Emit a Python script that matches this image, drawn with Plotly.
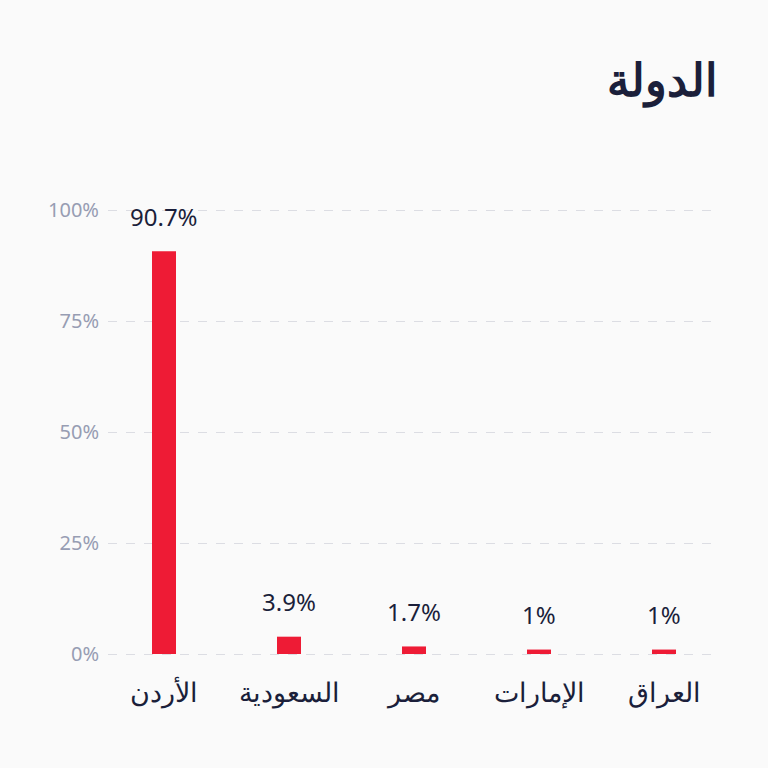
import plotly.graph_objects as go

categories = ["الأردن", "السعودية", "مصر", "الإمارات", "العراق"]
values = [90.7, 3.9, 1.7, 1.0, 1.0]
value_labels = ["90.7%", "3.9%", "1.7%", "1%", "1%"]
y_ticks = [0, 25, 50, 75, 100]
y_tick_labels = ["0%", "25%", "50%", "75%", "100%"]
title_text = "الدولة"

FONT = "Noto Sans"
DARK = "#1b1f3a"
RED = "#ee1b35"

fig = go.Figure()
fig.add_trace(go.Bar(
    x=categories, y=values, marker=dict(color=RED, line=dict(width=0)),
    width=0.192, hoverinfo="skip",
))
for c, v, t in zip(categories, values, value_labels):
    fig.add_annotation(x=c, y=v, text=t, showarrow=False, yanchor="middle",
                       yshift=35, font=dict(family=FONT, size=24, color=DARK))

fig.add_annotation(xref="paper", yref="paper", x=1, y=1, xanchor="right", yanchor="middle",
                   yshift=130, xshift=0, text="<b>" + title_text + "</b>", showarrow=False,
                   font=dict(family=FONT, size=45, color=DARK))

fig.update_layout(
    width=768, height=768,
    paper_bgcolor="#fafafa", plot_bgcolor="#fafafa",
    margin=dict(l=108, r=48, t=208, b=112),
    showlegend=False,
    font=dict(family=FONT),
    xaxis=dict(range=[-0.448, 4.448], showgrid=False, zeroline=False, showline=False,
               ticks="", tickfont=dict(family=FONT, size=27, color=DARK, weight=300),
               ticklabelstandoff=18),
    yaxis=dict(range=[-0.45, 100.45], tickvals=y_ticks, ticktext=y_tick_labels,
               showgrid=True, gridcolor="#dcdde3", griddash="dash", gridwidth=1,
               zeroline=False, showline=False, ticks="",
               tickfont=dict(family=FONT, size=20, color="#979db3"),
               ticklabelstandoff=8),
)

fig.write_html("out.html")
